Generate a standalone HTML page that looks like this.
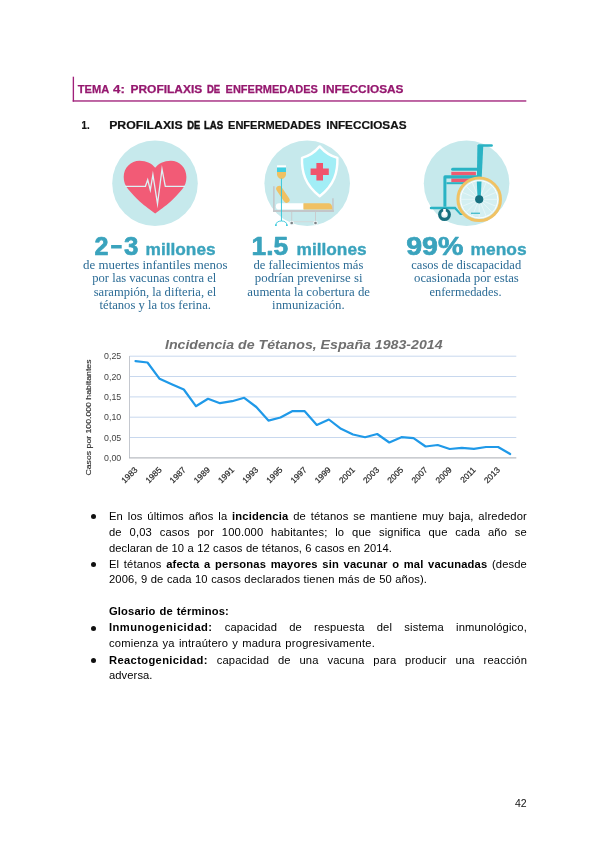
<!DOCTYPE html>
<html lang="es">
<head>
<meta charset="utf-8">
<title>Tema 4</title>
<style>
html,body{margin:0;padding:0;background:#fff;}
body{width:600px;height:848px;position:relative;overflow:hidden;font-family:"Liberation Sans",sans-serif;color:#111;}
.abs{position:absolute;white-space:nowrap;will-change:transform;}
.hdr{left:72.6px;top:76.6px;width:453.6px;height:25px;border-left:1.5px solid #a3237c;border-bottom:1.5px solid #a3237c;box-sizing:border-box;}
.hdrt{left:78px;top:82px;font-size:10.4px;font-weight:bold;color:#9c1f77;letter-spacing:0.55px;line-height:13px;}
.h1{top:119px;font-size:10.4px;font-weight:bold;color:#111;letter-spacing:0.45px;line-height:13px;}
.ln{left:109px;width:418px;font-size:11.2px;letter-spacing:0.15px;line-height:14px;height:14px;color:#000;text-align:left;white-space:nowrap;}
.j{text-align:justify;text-align-last:justify;white-space:normal;}
.bul{width:5px;height:5px;border-radius:50%;background:#111;left:91.3px;}
.big{font-weight:bold;color:#3aa6bf;text-align:center;line-height:30px;}
.big .n{font-size:29px;letter-spacing:0.5px;}
.big .w{font-size:18.5px;}
.ser{font-family:"Liberation Serif",serif;color:#2f5f86;font-size:11.3px;line-height:13.6px;text-align:center;white-space:nowrap;}
</style>
</head>
<body>

<!-- header -->

<svg class="abs" id="heads" style="left:60px;top:70px;" width="480" height="70" viewBox="60 70 480 70" font-family="'Liberation Sans',sans-serif" font-weight="bold">
  <rect x="72.7" y="76.7" width="1.35" height="24.9" fill="#a0207a"/>
  <rect x="72.7" y="100.3" width="453.6" height="1.35" fill="#a0207a"/>
  <g fill="#95186f" stroke="#95186f" stroke-width="0.25" font-size="10.9">
    <text x="77.7" y="92.7" textLength="31.5" lengthAdjust="spacingAndGlyphs">TEMA</text>
    <text x="113.1" y="92.7" textLength="11.7" lengthAdjust="spacingAndGlyphs">4:</text>
    <text x="130.5" y="92.7" textLength="71.7" lengthAdjust="spacingAndGlyphs">PROFILAXIS</text>
    <text x="207.0" y="92.7" textLength="13.2" lengthAdjust="spacingAndGlyphs" stroke-width="0.45">DE</text>
    <text x="225.6" y="92.7" textLength="92.2" lengthAdjust="spacingAndGlyphs">ENFERMEDADES</text>
    <text x="322.6" y="92.7" textLength="80.9" lengthAdjust="spacingAndGlyphs">INFECCIOSAS</text>
  </g>
  <g fill="#111" stroke="#111" stroke-width="0.2" font-size="10.6">
    <text x="81.6" y="128.9" textLength="8.1" lengthAdjust="spacingAndGlyphs">1.</text>
    <text x="109.2" y="128.9" textLength="73.5" lengthAdjust="spacingAndGlyphs">PROFILAXIS</text>
    <text x="187.2" y="128.9" textLength="13.0" lengthAdjust="spacingAndGlyphs" stroke-width="0.45">DE</text>
    <text x="204.0" y="128.9" textLength="19.2" lengthAdjust="spacingAndGlyphs" stroke-width="0.45">LAS</text>
    <text x="228.0" y="128.9" textLength="92.8" lengthAdjust="spacingAndGlyphs">ENFERMEDADES</text>
    <text x="326.2" y="128.9" textLength="80.3" lengthAdjust="spacingAndGlyphs">INFECCIOSAS</text>
  </g>
</svg>

<!-- infographic -->
<svg class="abs" id="info" style="left:60px;top:135px;" width="500" height="185" viewBox="60 135 500 185" font-family="'Liberation Sans',sans-serif">
  <!-- circles -->
  <circle cx="155" cy="183.3" r="42.8" fill="#c6e9ec"/>
  <circle cx="307.2" cy="183.3" r="42.8" fill="#c6e9ec"/>
  <circle cx="466.6" cy="183.3" r="42.8" fill="#c6e9ec"/>

  <!-- heart -->
  <path d="M155.2 213.4 C152 211.2 144.4 205.6 140 201.7 C136 198.2 131.2 193 128.4 189.6 C125 185.6 123.7 181.5 123.7 177 C123.7 167.8 130.8 160.7 139.6 160.7 C146.4 160.7 152.4 163.8 155.2 167.8 C158 163.8 164 160.7 170.8 160.7 C179.6 160.7 186.4 167.8 186.4 177 C186.4 181.5 185.4 185.6 182 189.6 C179.2 193 174.4 198.2 170.4 201.7 C166 205.6 158.4 211.2 155.2 213.4 Z" fill="#f25b76"/>
  <path d="M125 186.3 H145.4 L147.7 179.8 L150.3 190 L152.9 174.6 L157.5 204 L162 169.2 L165.3 186.3 H185" fill="none" stroke="#dcf2f5" stroke-width="1.3" stroke-linejoin="miter" stroke-miterlimit="10"/>

  <!-- hospital bed + shield -->
  <g id="bed">
    <!-- shield -->
    <path d="M319.7 146.4 C314.5 152.5 308.5 156.3 302 157.8 C301.6 172 304.8 184.8 319.7 196.3 C334.6 184.8 337.8 172 337.4 157.8 C331 156.3 325 152.5 319.7 146.4 Z" fill="#a2eef6" stroke="#ffffff" stroke-width="2.4" stroke-linejoin="round"/>
    <path d="M316.4 163 h6.6 v5.4 h5.8 v6.6 h-5.8 v5.6 h-6.6 v-5.6 h-5.8 v-6.6 h5.8 z" fill="#f0546d"/>
    <!-- bed frame -->
    <rect x="273.1" y="186.2" width="1.5" height="25.8" fill="#c3c6c9"/>
    <rect x="332.2" y="198.3" width="1.5" height="13.7" fill="#c3c6c9"/>
    <rect x="273.1" y="210" width="60.6" height="2" fill="#c3c6c9"/>
    <!-- legs -->
    <rect x="291.2" y="212" width="1" height="10" fill="#c9ccce"/>
    <rect x="315" y="212" width="1" height="10" fill="#c9ccce"/>
    <rect x="292" y="221.3" width="23" height="0.9" fill="#d4d7d9"/>
    <circle cx="291.7" cy="223" r="2.3" fill="#eef7f8"/>
    <circle cx="315.5" cy="223" r="2.3" fill="#eef7f8"/>
    <circle cx="291.7" cy="223" r="1.3" fill="#7d8286"/>
    <circle cx="315.5" cy="223" r="1.3" fill="#7d8286"/>
    <!-- mattress -->
    <path d="M279 203.3 H304 V209.6 H279 A3.15 3.15 0 0 1 279 203.3 Z" fill="#ffffff"/>
    <path d="M303.4 203.3 H329 Q332.4 203.6 332.4 209.6 H303.4 Z" fill="#f0c163"/>
    <!-- arm -->
    <line x1="279.2" y1="188.8" x2="286.6" y2="199.8" stroke="#f0c163" stroke-width="6" stroke-linecap="round"/>
    <!-- IV -->
    <rect x="277" y="165.3" width="9" height="2.4" fill="#ffffff"/>
    <rect x="277" y="167.5" width="9" height="4.6" fill="#41cfe0"/>
    <path d="M277 172 H286 V174.2 Q286 177.6 282.2 178.9 H280.8 Q277 177.6 277 174.2 Z" fill="#f0c163"/>
    <rect x="280.95" y="178.5" width="0.95" height="42.5" fill="#33c6da"/>
    <path d="M275.9 225 Q276.3 221 281.4 221 Q286.5 221 286.9 225" fill="none" stroke="#33c6da" stroke-width="0.9"/>
    <circle cx="275.9" cy="225.2" r="0.9" fill="#33c6da"/>
    <circle cx="286.9" cy="225.2" r="0.9" fill="#33c6da"/>
  </g>

  <!-- wheelchair -->
  <g id="wc">
    <!-- back -->
    <path d="M477.4 145.3 H483.3 L480.8 196 H476.6 Z" fill="#2ab3c4"/>
    <line x1="479" y1="145.4" x2="491.6" y2="145.4" stroke="#2ab3c4" stroke-width="2.5" stroke-linecap="round"/>
    <!-- armrest -->
    <line x1="452.6" y1="169.2" x2="478" y2="169.2" stroke="#2ab3c4" stroke-width="3" stroke-linecap="round"/>
    <!-- cushions -->
    <rect x="451.3" y="171.8" width="24.6" height="3.6" fill="#ee5b71"/>
    <rect x="451.3" y="178.4" width="24.6" height="3.8" fill="#ee5b71"/>
    <!-- seat frame -->
    <path d="M443.4 206.8 V177 Q443.4 175.3 445 175.3 H481 V178.4 H446.4 V206.8 Z" fill="#2ab3c4"/>
    <rect x="446.4" y="182.2" width="20" height="2" fill="#2ab3c4"/>
    <!-- footrest -->
    <path d="M431 206.7 H455.5 L461 213.3 H480 V215 H460 L454.6 209.2 H431 A1.25 1.25 0 0 1 431 206.7 Z" fill="#2ab3c4"/>
    <!-- big wheel -->
    <circle cx="479.2" cy="199.3" r="21.3" fill="#d3eff1" stroke="#f0c264" stroke-width="3"/>
    <g stroke="#eef9fa" stroke-width="0.7">
      <line x1="479.2" y1="181" x2="479.2" y2="217.6"/>
      <line x1="460.9" y1="199.3" x2="497.5" y2="199.3"/>
      <line x1="466.3" y1="186.4" x2="492.1" y2="212.2"/>
      <line x1="466.3" y1="212.2" x2="492.1" y2="186.4"/>
      <line x1="472.2" y1="182.4" x2="486.2" y2="216.2"/>
      <line x1="486.2" y1="182.4" x2="472.2" y2="216.2"/>
      <line x1="462.3" y1="192.3" x2="496.1" y2="206.3"/>
      <line x1="462.3" y1="206.3" x2="496.1" y2="192.3"/>
    </g>
    <circle cx="479.2" cy="199.3" r="18.6" fill="none" stroke="#ffffff" stroke-width="1"/>
    <!-- lower back through wheel -->
    <path d="M476.8 181.5 H481.5 L480.7 199 H477.6 Z" fill="#2ab3c4"/>
    <rect x="471" y="212.6" width="9" height="1.4" fill="#2ab3c4" opacity="0.8"/>
    <circle cx="479.2" cy="199.3" r="4.1" fill="#17707f"/>
    <!-- small wheel -->
    <circle cx="444.5" cy="214.6" r="4.85" fill="#e4f5f6" stroke="#17707f" stroke-width="3.2"/>
    <path d="M443.2 209 h2.6 v3 q0.9 0.5 0.9 1.5 a2.2 2.2 0 0 1 -4.4 0 q0 -1 0.9 -1.5 z" fill="#ffffff"/>
  </g>

  <!-- big numbers -->
  <g fill="#3aa3bd" font-weight="bold" stroke="#3aa3bd" stroke-width="0.7" stroke-linejoin="round">
    <text x="94.4" y="254.9" font-size="25.5" textLength="14" lengthAdjust="spacingAndGlyphs">2</text>
    <rect x="111.1" y="245" width="10.6" height="3.5" stroke="none"/>
    <text x="124" y="254.9" font-size="25.5" textLength="14.4" lengthAdjust="spacingAndGlyphs">3</text>
    <text x="145.6" y="254.9" font-size="16.4" textLength="70" lengthAdjust="spacingAndGlyphs" stroke-width="0.35">millones</text>
    <text x="251.6" y="254.9" font-size="25.5" textLength="36.6" lengthAdjust="spacingAndGlyphs">1.5</text>
    <text x="296.6" y="254.9" font-size="16.4" textLength="70" lengthAdjust="spacingAndGlyphs" stroke-width="0.35">millones</text>
    <text x="406.2" y="254.9" font-size="25.5" textLength="57.2" lengthAdjust="spacingAndGlyphs">99%</text>
    <text x="470.6" y="254.9" font-size="16.4" textLength="56" lengthAdjust="spacingAndGlyphs" stroke-width="0.35">menos</text>
  </g>

  <!-- serif captions -->
  <g fill="#2c6c96" font-family="'Liberation Serif',serif" font-size="12.6">
    <text x="83" y="269" textLength="144.5" lengthAdjust="spacingAndGlyphs">de muertes infantiles menos</text>
    <text x="92.3" y="282.4" textLength="124" lengthAdjust="spacingAndGlyphs">por las vacunas contra el</text>
    <text x="93.7" y="295.8" textLength="122.6" lengthAdjust="spacingAndGlyphs">sarampión, la difteria, el</text>
    <text x="99.5" y="309.2" textLength="111.5" lengthAdjust="spacingAndGlyphs">tétanos y la tos ferina.</text>

    <text x="253.5" y="269" textLength="109.8" lengthAdjust="spacingAndGlyphs">de fallecimientos más</text>
    <text x="254.8" y="282.4" textLength="107.7" lengthAdjust="spacingAndGlyphs">podrían prevenirse si</text>
    <text x="247.3" y="295.8" textLength="122.7" lengthAdjust="spacingAndGlyphs">aumenta la cobertura de</text>
    <text x="272.1" y="309.2" textLength="72.6" lengthAdjust="spacingAndGlyphs">inmunización.</text>

    <text x="411.3" y="269" textLength="109.9" lengthAdjust="spacingAndGlyphs">casos de discapacidad</text>
    <text x="414" y="282.4" textLength="104.8" lengthAdjust="spacingAndGlyphs">ocasionada por estas</text>
    <text x="429.5" y="295.8" textLength="72" lengthAdjust="spacingAndGlyphs">enfermedades.</text>
  </g>
</svg>



<!-- chart -->
<svg class="abs" id="chart" style="left:70px;top:325px;" width="470" height="175" viewBox="70 325 470 175" font-family="'Liberation Sans',sans-serif">
  <line x1="129.5" x2="516.3" y1="356.2" y2="356.2" stroke="#c8d8ee" stroke-width="1"/>
  <line x1="129.5" x2="516.3" y1="376.5" y2="376.5" stroke="#c8d8ee" stroke-width="1"/>
  <line x1="129.5" x2="516.3" y1="396.9" y2="396.9" stroke="#c8d8ee" stroke-width="1"/>
  <line x1="129.5" x2="516.3" y1="417.2" y2="417.2" stroke="#c8d8ee" stroke-width="1"/>
  <line x1="129.5" x2="516.3" y1="437.5" y2="437.5" stroke="#c8d8ee" stroke-width="1"/>
  <line x1="129.5" x2="129.5" y1="356" y2="458" stroke="#c4c8cf" stroke-width="1"/>
  <line x1="129" x2="516.3" y1="457.9" y2="457.9" stroke="#b9bcc2" stroke-width="1.4"/>
  <path d="M135.5 361.2 L147.5 362.5 L159.6 378.8 L171.7 384.2 L183.8 389.5 L195.9 406.2 L208.0 398.8 L220.0 403.2 L232.1 401.2 L244.2 397.8 L256.3 407.0 L268.4 420.6 L280.5 417.5 L292.6 411.0 L304.7 411.2 L316.8 425.0 L328.9 419.5 L341.0 428.8 L353.0 434.5 L365.1 437.2 L377.2 434.0 L389.3 442.5 L401.4 437.2 L413.5 438.2 L425.6 446.5 L437.7 445.0 L449.7 449.0 L461.8 447.8 L473.9 448.8 L486.0 447.0 L498.1 447.0 L510.2 454.0" fill="none" stroke="#1f99e8" stroke-width="2.2" stroke-linejoin="round" stroke-linecap="round"/>
  <text x="165" y="349" font-size="13.4" font-weight="bold" font-style="italic" fill="#707070" textLength="277.5" lengthAdjust="spacingAndGlyphs">Incidencia de Tétanos, España 1983-2014</text>
  <text x="121.3" y="359.3" font-size="8.6" fill="#444" text-anchor="end" textLength="17.2" lengthAdjust="spacingAndGlyphs">0,25</text>
  <text x="121.3" y="379.6" font-size="8.6" fill="#444" text-anchor="end" textLength="17.2" lengthAdjust="spacingAndGlyphs">0,20</text>
  <text x="121.3" y="400.0" font-size="8.6" fill="#444" text-anchor="end" textLength="17.2" lengthAdjust="spacingAndGlyphs">0,15</text>
  <text x="121.3" y="420.3" font-size="8.6" fill="#444" text-anchor="end" textLength="17.2" lengthAdjust="spacingAndGlyphs">0,10</text>
  <text x="121.3" y="440.6" font-size="8.6" fill="#444" text-anchor="end" textLength="17.2" lengthAdjust="spacingAndGlyphs">0,05</text>
  <text x="121.3" y="461.0" font-size="8.6" fill="#444" text-anchor="end" textLength="17.2" lengthAdjust="spacingAndGlyphs">0,00</text>
  <text transform="translate(90.5,417.5) rotate(-90)" font-size="8" fill="#303030" stroke="#303030" stroke-width="0.15" text-anchor="middle" textLength="116" lengthAdjust="spacingAndGlyphs">Casos por 100.000 habitantes</text>
  <text transform="translate(138.0,470.5) rotate(-45)" font-size="8.4" fill="#2a2a2a" stroke="#2a2a2a" stroke-width="0.2" text-anchor="end">1983</text>
  <text transform="translate(162.2,470.5) rotate(-45)" font-size="8.4" fill="#2a2a2a" stroke="#2a2a2a" stroke-width="0.2" text-anchor="end">1985</text>
  <text transform="translate(186.3,470.5) rotate(-45)" font-size="8.4" fill="#2a2a2a" stroke="#2a2a2a" stroke-width="0.2" text-anchor="end">1987</text>
  <text transform="translate(210.5,470.5) rotate(-45)" font-size="8.4" fill="#2a2a2a" stroke="#2a2a2a" stroke-width="0.2" text-anchor="end">1989</text>
  <text transform="translate(234.7,470.5) rotate(-45)" font-size="8.4" fill="#2a2a2a" stroke="#2a2a2a" stroke-width="0.2" text-anchor="end">1991</text>
  <text transform="translate(258.9,470.5) rotate(-45)" font-size="8.4" fill="#2a2a2a" stroke="#2a2a2a" stroke-width="0.2" text-anchor="end">1993</text>
  <text transform="translate(283.0,470.5) rotate(-45)" font-size="8.4" fill="#2a2a2a" stroke="#2a2a2a" stroke-width="0.2" text-anchor="end">1995</text>
  <text transform="translate(307.2,470.5) rotate(-45)" font-size="8.4" fill="#2a2a2a" stroke="#2a2a2a" stroke-width="0.2" text-anchor="end">1997</text>
  <text transform="translate(331.4,470.5) rotate(-45)" font-size="8.4" fill="#2a2a2a" stroke="#2a2a2a" stroke-width="0.2" text-anchor="end">1999</text>
  <text transform="translate(355.6,470.5) rotate(-45)" font-size="8.4" fill="#2a2a2a" stroke="#2a2a2a" stroke-width="0.2" text-anchor="end">2001</text>
  <text transform="translate(379.7,470.5) rotate(-45)" font-size="8.4" fill="#2a2a2a" stroke="#2a2a2a" stroke-width="0.2" text-anchor="end">2003</text>
  <text transform="translate(403.9,470.5) rotate(-45)" font-size="8.4" fill="#2a2a2a" stroke="#2a2a2a" stroke-width="0.2" text-anchor="end">2005</text>
  <text transform="translate(428.1,470.5) rotate(-45)" font-size="8.4" fill="#2a2a2a" stroke="#2a2a2a" stroke-width="0.2" text-anchor="end">2007</text>
  <text transform="translate(452.3,470.5) rotate(-45)" font-size="8.4" fill="#2a2a2a" stroke="#2a2a2a" stroke-width="0.2" text-anchor="end">2009</text>
  <text transform="translate(476.4,470.5) rotate(-45)" font-size="8.4" fill="#2a2a2a" stroke="#2a2a2a" stroke-width="0.2" text-anchor="end">2011</text>
  <text transform="translate(500.6,470.5) rotate(-45)" font-size="8.4" fill="#2a2a2a" stroke="#2a2a2a" stroke-width="0.2" text-anchor="end">2013</text>
</svg>

<!-- body text -->
<div class="abs bul" style="top:514.20px;"></div>
<div class="abs ln j" style="top:508.92px;">En los últimos años la <b>incidencia</b> de tétanos se mantiene muy baja, alrededor</div>
<div class="abs ln j" style="top:524.92px;">de 0,03 casos por 100.000 habitantes; lo que significa que cada año se</div>
<div class="abs ln j" style="top:541.12px;width:283px;letter-spacing:0.05px;">declaran de 10 a 12 casos de tétanos, 6 casos en 2014.</div>
<div class="abs bul" style="top:562.20px;"></div>
<div class="abs ln j" style="top:557.12px;">El tétanos <b>afecta a personas mayores sin vacunar o mal vacunadas</b> (desde</div>
<div class="abs ln j" style="top:572.22px;width:318px;letter-spacing:0.1px;">2006, 9 de cada 10 casos declarados tienen más de 50 años).</div>

<div class="abs ln j" style="top:604.42px;width:120px;letter-spacing:0.15px;"><b>Glosario de términos:</b></div>
<div class="abs bul" style="top:625.80px;"></div>
<div class="abs ln j" style="top:620.42px;"><b style="letter-spacing:0.45px">Inmunogenicidad:</b> capacidad de respuesta del sistema inmunológico,</div>
<div class="abs ln j" style="top:636.42px;width:266px;letter-spacing:0.2px;">comienza ya intraútero y madura progresivamente.</div>
<div class="abs bul" style="top:657.80px;"></div>
<div class="abs ln j" style="top:652.62px;"><b style="letter-spacing:0.35px">Reactogenicidad:</b> capacidad de una vacuna para producir una reacción</div>
<div class="abs ln j" style="top:667.92px;width:44px;letter-spacing:0.08px;">adversa.</div>

<div class="abs" style="left:515px;top:797px;font-size:10.5px;line-height:13px;color:#111;">42</div>

</body>
</html>
